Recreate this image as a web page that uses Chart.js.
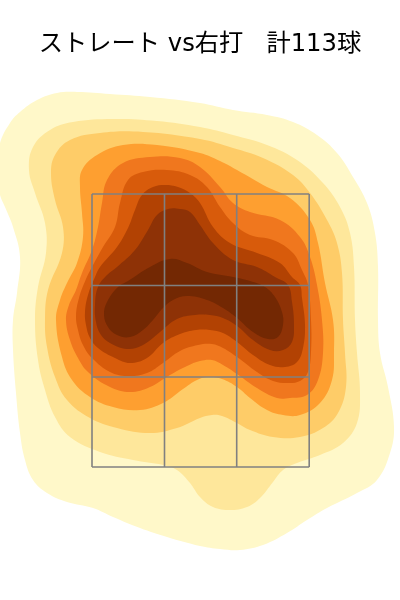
<!DOCTYPE html>
<html>
<head>
<meta charset="utf-8">
<script src="https://cdn.jsdelivr.net/npm/chart.js@4/dist/chart.umd.min.js"></script>
<style>
body{margin:0;background:#fff;}
canvas{display:block;}
</style>
</head>
<body>
<canvas id="kdeChart" width="400" height="600"></canvas>
<script>
const titleText = "ストレート vs右打   計113球";

// strike zone grid
const zoneX = [92,164.5,236.7,309.2];
const zoneY = [194,285.5,377,467];

// density contours, outermost first
const level1 = [[-4,170],[0,143],[10,123],[20,112],[37,100],[57,93],[77,92],[110,94],[150,97],[200,103],[233,110],[267,115],[293,122],[317,135],[337,153],[353,177],[367,203],[375,233],[378,267],[378,320],[380,353],[388,387],[394,427],[390,453],[377,480],[357,493],[327,508],[307,520],[287,533],[263,545],[240,550],[220,549],[200,546],[167,537],[140,528],[113,517],[93,508],[67,502],[47,493],[33,480],[25,460],[20,433],[16,393],[13,350],[13,320],[17,293],[20,257],[13,227],[5,207],[0,195],[-4,170]];
const level2 = [[29,170],[33,147],[50,130],[73,122],[113,119],[157,121],[200,127],[233,135],[267,145],[297,160],[323,183],[340,207],[350,233],[354,267],[355,320],[357,353],[360,393],[357,423],[343,443],[320,455],[297,463],[283,470],[273,482],[260,498],[247,507],[230,510],[213,507],[200,497],[190,483],[177,470],[163,465],[133,460],[100,452],[70,437],[55,417],[45,390],[38,360],[35,320],[38,287],[46,253],[45,223],[35,193],[29,170]];
const level3 = [[51,173],[55,155],[70,140],[100,133],[143,132],[200,139],[233,148],[263,158],[293,175],[310,193],[327,220],[337,243],[342,273],[343,320],[345,353],[346,387],[338,413],[323,428],[300,437],[273,437],[250,430],[237,423],[222,416],[212,415],[200,418],[177,428],[150,433],[117,428],[90,418],[67,400],[55,377],[47,347],[45,320],[48,290],[62,253],[63,227],[55,200],[51,173]];
const level4 = [[82,170],[97,155],[123,145],[157,145],[200,153],[220,161],[237,170],[267,187],[290,198],[310,220],[318,243],[325,283],[333,320],[334,353],[332,380],[320,403],[300,415],[283,415],[267,410],[250,398],[237,387],[222,379],[208,377],[197,380],[183,389],[163,403],[140,410],[113,407],[90,397],[72,380],[62,357],[56,320],[60,300],[67,283],[77,263],[83,237],[82,213],[80,187],[82,170]];
const level5 = [[107,180],[123,163],[150,157],[180,158],[200,167],[220,187],[233,203],[250,212],[280,220],[300,237],[310,257],[317,285],[322,320],[323,353],[318,380],[307,395],[290,398],[277,398],[257,388],[237,374],[223,365],[212,360],[200,361],[187,366],[170,375],[150,387],[130,392],[110,387],[88,372],[78,358],[70,340],[66,320],[69,305],[76,290],[82,273],[92,250],[98,227],[102,203],[107,180]];
const level6 = [[128,180],[143,172],[167,170],[190,175],[207,187],[220,207],[233,223],[250,235],[273,240],[293,253],[302,270],[308,285],[311,320],[311,352],[308,372],[300,381],[287,383],[273,381],[257,372],[237,357],[223,348],[212,344],[198,345],[180,351],[163,363],[147,373],[127,376],[110,372],[92,358],[83,345],[78,330],[76,316],[79,298],[86,279],[92,267],[103,247],[115,227],[120,203],[128,180]];
const level7 = [[142,195],[153,187],[165,185],[178,187],[190,193],[200,203],[213,227],[230,243],[257,253],[280,263],[292,277],[300,285],[302,298],[305,325],[303,348],[297,362],[285,367],[270,365],[253,355],[237,342],[223,333],[210,330],[196,330],[180,334],[163,343],[147,358],[130,363],[115,358],[98,348],[90,338],[86,325],[85,312],[88,295],[95,277],[100,267],[117,247],[128,228],[135,210],[142,195]];
const level8 = [[157,215],[168,209],[180,209],[190,212],[200,225],[213,243],[233,260],[257,267],[275,277],[288,285],[292,302],[294,325],[292,342],[283,350],[270,350],[253,340],[237,326],[223,318],[210,315],[195,315],[177,319],[160,332],[143,345],[127,349],[110,343],[101,335],[96,322],[95,305],[98,287],[107,275],[117,267],[135,250],[148,230],[157,215]];
const level9 = [[128,281],[150,267],[170,259],[187,263],[207,272],[233,277],[250,281],[265,287],[275,297],[282,312],[283,325],[278,337],[268,339],[253,332],[237,318],[223,308],[207,300],[187,296],[173,300],[163,308],[153,320],[143,330],[130,337],[117,335],[108,327],[104,315],[107,302],[118,287],[128,281]];

const levels = [level1,level2,level3,level4,level5,level6,level7,level8,level9];
const levelColors = ["#fff8c9","#fee79b","#fecc68","#fe9f30","#f0771e","#d85b0b","#b24203","#8e3206","#732803"];

// run over the first points again so the curve has no corner where it closes
function toPoints(pairs){
return pairs.concat(pairs.slice(1,3)).map(p => ({x:p[0],y:p[1]}));
}

let datasets = [];

// zone lines first, the filler draws the lowest index on top
zoneX.forEach(x => {
datasets.push({
data:[{x:x,y:zoneY[0]},{x:x,y:zoneY[3]}],
borderColor:"#808080",
borderWidth:1.6,
pointRadius:0,
showLine:true,
fill:false,
order:0
});
});

zoneY.forEach(y => {
datasets.push({
data:[{x:zoneX[0],y:y},{x:zoneX[3],y:y}],
borderColor:"#808080",
borderWidth:1.6,
pointRadius:0,
showLine:true,
fill:false,
order:0
});
});

// darkest first so the pale ones end up underneath
for(let i=levels.length-1;i>=0;i--){
datasets.push({
data:toPoints(levels[i]),
backgroundColor:levelColors[i],
borderColor:levelColors[i],
borderWidth:0,
pointRadius:0,
showLine:true,
fill:"shape",
tension:0.4,
order:1
});
}

new Chart(document.getElementById("kdeChart"),{
type:"scatter",
data:{datasets:datasets},
options:{
responsive:false,
animation:false,
layout:{padding:0},
plugins:{
legend:{display:false},
tooltip:{enabled:false},
title:{
display:true,
text:titleText,
color:"#000",
font:{family:"'DejaVu Sans','Noto Sans CJK JP'",size:24.25,weight:"normal",lineHeight:1.2},
padding:{top:30,bottom:20.9}
}
},
scales:{
x:{type:"linear",min:0,max:400,display:false},
y:{type:"linear",min:80,max:600,reverse:true,display:false}
}
}
});
</script>
</body>
</html>
